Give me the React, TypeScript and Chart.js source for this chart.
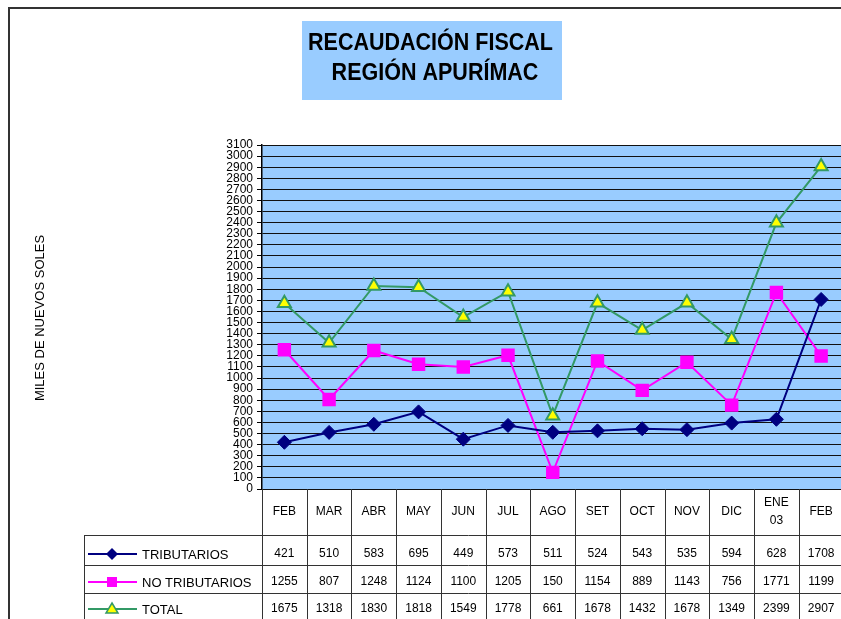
import React, { useEffect, useRef } from 'react';
import { Chart, registerables } from 'chart.js';

Chart.register(...registerables);

const CATEGORIES: (string | string[])[] = ['FEB', 'MAR', 'ABR', 'MAY', 'JUN', 'JUL', 'AGO', 'SET', 'OCT', 'NOV', 'DIC', ['ENE', '03'], 'FEB'];
const TRIBUTARIOS = [421, 510, 583, 695, 449, 573, 511, 524, 543, 535, 594, 628, 1708];
const NO_TRIBUTARIOS = [1255, 807, 1248, 1124, 1100, 1205, 150, 1154, 889, 1143, 756, 1771, 1199];
const TOTAL = [1675, 1318, 1830, 1818, 1549, 1778, 661, 1678, 1432, 1678, 1349, 2399, 2907];
const SERIES_NAMES = ['TRIBUTARIOS', 'NO TRIBUTARIOS', 'TOTAL'];
const Y_MIN = 0;
const Y_MAX = 3100;
const Y_STEP = 100;
const TITLE_LINES = ['RECAUDACIÓN FISCAL', 'REGIÓN APURÍMAC'];
const Y_TITLE = 'MILES DE NUEVOS SOLES';

const FONT = 'Arial, "Liberation Sans", Helvetica, sans-serif';
const COLORS = ['#000080', '#FF00FF', '#339966'];

function drawMarker(ctx: CanvasRenderingContext2D, kind: number, x: number, y: number) {
  ctx.save();
  if (kind === 0) {
    ctx.fillStyle = COLORS[0];
    ctx.beginPath();
    ctx.moveTo(x, y - 6);
    ctx.lineTo(x + 6, y);
    ctx.lineTo(x, y + 6);
    ctx.lineTo(x - 6, y);
    ctx.closePath();
    ctx.fill();
  } else if (kind === 1) {
    ctx.fillStyle = COLORS[1];
    ctx.fillRect(x - 5, y - 5, 10, 10);
  } else {
    ctx.fillStyle = '#FFFF00';
    ctx.strokeStyle = COLORS[2];
    ctx.lineWidth = 1.5;
    ctx.beginPath();
    ctx.moveTo(x, y - 6);
    ctx.lineTo(x + 6, y + 4);
    ctx.lineTo(x - 6, y + 4);
    ctx.closePath();
    ctx.fill();
    ctx.stroke();
  }
  ctx.restore();
}

function drawCondensed(ctx: CanvasRenderingContext2D, text: string, cx: number, baseline: number, sx: number) {
  ctx.save();
  ctx.translate(cx, baseline);
  ctx.scale(sx, 1);
  ctx.textAlign = 'center';
  ctx.textBaseline = 'alphabetic';
  ctx.fillText(text, 0, 0);
  ctx.restore();
}

const decor = {
  id: 'decor',
  beforeDraw(chart: any) {
    const { ctx, chartArea: a } = chart;
    ctx.save();
    ctx.fillStyle = '#ffffff';
    ctx.fillRect(0, 0, chart.width, chart.height);
    ctx.fillStyle = '#99CCFF';
    ctx.fillRect(a.left, a.top, a.right - a.left, a.bottom - a.top);
    ctx.restore();
  },
  afterDraw(chart: any) {
    const { ctx, chartArea: a } = chart;
    const xs = chart.scales.x;
    const W = chart.width;
    const H = chart.height;
    ctx.save();

    // outer frame
    ctx.strokeStyle = '#333';
    ctx.lineWidth = 2;
    ctx.beginPath();
    ctx.moveTo(9, H);
    ctx.lineTo(9, 8);
    ctx.lineTo(W, 8);
    ctx.stroke();

    // title box
    ctx.fillStyle = '#99CCFF';
    ctx.fillRect(302, 21, 260, 79);
    ctx.fillStyle = '#000';
    ctx.font = `bold 23px ${FONT}`;
    const w1 = ctx.measureText(TITLE_LINES[0]).width;
    const sx = 245 / w1;
    drawCondensed(ctx, TITLE_LINES[0], 430.5, 50, sx);
    drawCondensed(ctx, TITLE_LINES[1], 435, 80, sx);

    // y title
    ctx.save();
    ctx.translate(40, 318);
    ctx.rotate(-Math.PI / 2);
    ctx.font = `13px ${FONT}`;
    ctx.textAlign = 'center';
    ctx.textBaseline = 'middle';
    ctx.fillText(Y_TITLE, 0, 0);
    ctx.restore();

    // table
    const n = CATEGORIES.length;
    const half = (xs.getPixelForValue(1) - xs.getPixelForValue(0)) / 2;
    const top = a.bottom;
    const rowY = [top, 535, 565, 593];
    const legendLeft = 84;
    ctx.strokeStyle = '#333';
    ctx.lineWidth = 1;
    for (let i = 0; i <= n; i++) {
      const x = Math.round(xs.getPixelForValue(i) - half) + 0.5;
      ctx.beginPath();
      ctx.moveTo(x, top);
      ctx.lineTo(x, H);
      ctx.stroke();
    }
    ctx.beginPath();
    ctx.moveTo(legendLeft + 0.5, rowY[1]);
    ctx.lineTo(legendLeft + 0.5, H);
    ctx.stroke();
    for (let r = 1; r <= 3; r++) {
      ctx.beginPath();
      ctx.moveTo(legendLeft, rowY[r] + 0.5);
      ctx.lineTo(W, rowY[r] + 0.5);
      ctx.stroke();
    }
    ctx.fillStyle = '#000';
    ctx.font = `12px ${FONT}`;
    ctx.textAlign = 'center';
    ctx.textBaseline = 'middle';
    const hc = (rowY[0] + rowY[1]) / 2;
    CATEGORIES.forEach((c, i) => {
      const x = xs.getPixelForValue(i);
      if (Array.isArray(c)) {
        ctx.fillText(c[0], x, hc - 9);
        ctx.fillText(c[1], x, hc + 9);
      } else {
        ctx.fillText(c, x, hc);
      }
    });
    const data = [TRIBUTARIOS, NO_TRIBUTARIOS, TOTAL];
    const centers = [554, 582, 609];
    data.forEach((vals, r) => {
      const cy = centers[r];
      ctx.fillStyle = '#000';
      ctx.font = `12px ${FONT}`;
      ctx.textAlign = 'center';
      vals.forEach((v, i) => {
        ctx.fillText(String(v), xs.getPixelForValue(i), cy);
      });
      ctx.strokeStyle = COLORS[r];
      ctx.lineWidth = 2;
      ctx.beginPath();
      ctx.moveTo(88, cy);
      ctx.lineTo(137, cy);
      ctx.stroke();
      drawMarker(ctx, r, 112, cy);
      ctx.fillStyle = '#000';
      ctx.font = `13px ${FONT}`;
      ctx.textAlign = 'left';
      ctx.fillText(SERIES_NAMES[r], 142, cy + 1);
    });
    ctx.restore();
  },
};

export default function App() {
  const ref = useRef<HTMLCanvasElement>(null);
  useEffect(() => {
    const canvas = ref.current!;
    const chart = new Chart(canvas, {
      type: 'line',
      data: {
        labels: CATEGORIES as any,
        datasets: [
          {
            label: SERIES_NAMES[0],
            data: TRIBUTARIOS,
            borderColor: COLORS[0],
            backgroundColor: COLORS[0],
            borderWidth: 2,
            pointStyle: 'rectRot',
            pointRadius: 7,
            pointBorderWidth: 1,
            pointBackgroundColor: COLORS[0],
            pointBorderColor: COLORS[0],
          },
          {
            label: SERIES_NAMES[1],
            data: NO_TRIBUTARIOS,
            borderColor: COLORS[1],
            backgroundColor: COLORS[1],
            borderWidth: 2,
            pointStyle: 'rect',
            pointRadius: 9.5,
            pointBorderWidth: 0,
            pointBackgroundColor: COLORS[1],
            pointBorderColor: COLORS[1],
          },
          {
            label: SERIES_NAMES[2],
            data: TOTAL,
            borderColor: COLORS[2],
            backgroundColor: '#FFFF00',
            borderWidth: 2,
            pointStyle: 'triangle',
            pointRadius: 7.5,
            pointBorderWidth: 2,
            pointBackgroundColor: '#FFFF00',
            pointBorderColor: COLORS[2],
          },
        ],
      },
      options: {
        responsive: false,
        animation: false,
        devicePixelRatio: 1,
        layout: { padding: { top: 145, left: 0, right: 0, bottom: 0 } },
        plugins: { legend: { display: false }, title: { display: false }, tooltip: { enabled: false } },
        scales: {
          x: {
            type: 'category',
            offset: true,
            grid: { display: false },
            border: { display: false },
            ticks: { display: false },
            afterFit: (s: any) => { s.height = 130; },
          },
          y: {
            min: Y_MIN,
            max: Y_MAX,
            border: { display: true, color: '#000', width: 1.5 },
            grid: { color: '#111', lineWidth: 1, drawTicks: true, tickLength: 5, tickColor: '#000' },
            ticks: {
              stepSize: Y_STEP,
              autoSkip: false,
              color: '#000',
              padding: 4,
              font: { family: FONT, size: 12 },
              callback: (v: any) => String(v),
            },
            afterFit: (s: any) => { s.width = 262; },
          },
        },
      },
      plugins: [decor],
    });
    return () => chart.destroy();
  }, []);
  return (
    <div style={{ position: 'absolute', left: 0, top: 0, width: 841, height: 619, overflow: 'hidden', background: '#fff' }}>
      <canvas ref={ref} width={853} height={619} style={{ display: 'block', width: 853, height: 619 }} />
    </div>
  );
}
